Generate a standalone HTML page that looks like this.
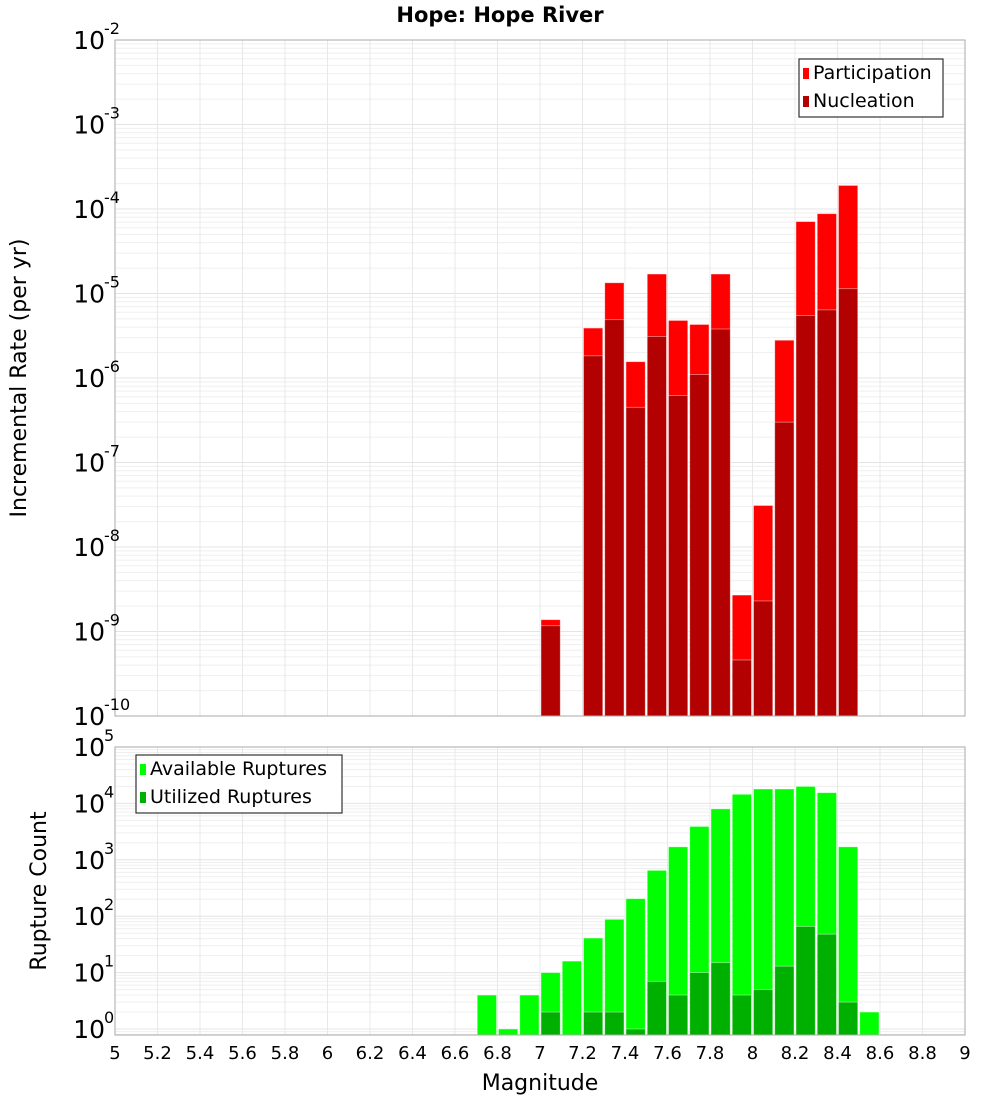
<!DOCTYPE html>
<html><head><meta charset="utf-8"><style>
body{margin:0;background:#fff;font-family:"Liberation Sans","DejaVu Sans",sans-serif}
svg text{font-family:"DejaVu Sans","Liberation Sans",sans-serif}
</style></head><body>
<svg id="c" width="1000" height="1100" xmlns="http://www.w3.org/2000/svg">
<text x="500" y="22" text-anchor="middle" font-size="21" font-weight="bold">Hope: Hope River</text>
<g id="top"></g><g id="bot"></g>
<text transform="translate(26,378) rotate(-90)" text-anchor="middle" font-size="22">Incremental Rate (per yr)</text>
<text transform="translate(46,891) rotate(-90)" text-anchor="middle" font-size="22">Rupture Count</text>
<text x="540" y="1090" text-anchor="middle" font-size="22">Magnitude</text>
</svg>
<script>
const bins=[6.75,6.85,6.95,7.05,7.15,7.25,7.35,7.45,7.55,7.65,7.75,7.85,7.95,8.05,8.15,8.25,8.35,8.45,8.55];
const participation=[0,0,0,1.38e-9,0,3.9e-6,1.34e-5,1.56e-6,1.7e-5,4.8e-6,4.3e-6,1.7e-5,2.7e-9,3.1e-8,2.8e-6,7.1e-5,8.8e-5,1.9e-4,0];
const nucleation=[0,0,0,1.17e-9,0,1.83e-6,4.9e-6,4.5e-7,3.1e-6,6.2e-7,1.1e-6,3.8e-6,4.6e-10,2.3e-9,3.0e-7,5.5e-6,6.4e-6,1.14e-5,0];
const available=[4,1,4,10,16,41,88,205,650,1700,3900,8000,14500,18000,18000,20000,15500,1700,2];
const utilized=[0,0,0,2,0,2,2,1,7,4,10,15,4,5,13,66,48,3,0];
const xTicks=["5","5.2","5.4","5.6","5.8","6","6.2","6.4","6.6","6.8","7","7.2","7.4","7.6","7.8","8","8.2","8.4","8.6","8.8","9"];
const topExps=[-2,-3,-4,-5,-6,-7,-8,-9,-10];
const botExps=[5,4,3,2,1,0];
const NS="http://www.w3.org/2000/svg";
const L=115,R=965;
const xs=m=>L+(m-5)*(R-L)/4;
function mk(p,t,a){const e=document.createElementNS(NS,t);for(const k in a)e.setAttribute(k,a[k]);p.appendChild(e);return e;}
function panel(g,top,bot,lmax,lmin,name){
  const ys=v=>top+(lmax-Math.log10(v))*(bot-top)/(lmax-lmin);
  mk(g,'rect',{x:L,y:top,width:R-L,height:bot-top,fill:'#fff'});
  for(let d=Math.floor(lmin);d<lmax;d++)for(let k=1;k<10;k++){const y=ys(k*Math.pow(10,d));if(y<top-0.5||y>bot+0.5)continue;
    mk(g,'line',{x1:L,x2:R,y1:y,y2:y,stroke:k==1?'#e4e4e4':'#efefef','stroke-width':1});}
  mk(g,'line',{x1:L,x2:R,y1:top,y2:top,stroke:'#e4e4e4'});
  xTicks.forEach(t=>{const x=xs(+t);mk(g,'line',{x1:x,x2:x,y1:top,y2:bot,stroke:'#e8e8e8'});});
  return ys;
}
function bars(g,ys,bot,vals,col,nm){
  vals.forEach((v,i)=>{if(!(v>0))return;const x0=xs(bins[i]-0.05)+1,x1=xs(bins[i]+0.05)-1;const y=Math.max(ys(v),0);
    const r=mk(g,'rect',{x:x0,y:y,width:x1-x0,height:bot-y,fill:col,stroke:'rgba(255,255,255,0.5)','stroke-width':0.8});
    
    });
}
function ylabels(g,ys,exps){
  exps.forEach(e=>{const y=ys(Math.pow(10,e));const t=mk(g,'text',{x:105,y:y+9,'text-anchor':'end','font-size':25});
    t.textContent='10';
    
    
    const s=mk(g,'text',{x:104,y:y-6,'font-size':16});s.textContent=String(e);});
}
function legend(g,x,y,w,items){
  mk(g,'rect',{x:x,y:y,width:w,height:58,fill:'#fff',stroke:'#333','stroke-width':1.2});
  items.forEach((it,i)=>{const yy=y+14+i*28;mk(g,'rect',{x:x+4,y:yy-5,width:6,height:11,fill:it[1]});
    const t=mk(g,'text',{x:x+14,y:yy+6,'font-size':19});t.textContent=it[0];
    
    });
}
const gt=document.getElementById('top'),gb=document.getElementById('bot');
const yt=panel(gt,40,716,-2,-10,'top');
bars(gt,yt,716,participation,'#ff0000','participation');
bars(gt,yt,716,nucleation,'#b30000','nucleation');
mk(gt,'rect',{x:L,y:40,width:R-L,height:676,fill:'none',stroke:'#aaa'});
ylabels(gt,yt,topExps);
legend(gt,799,59,144,[['Participation','#ff0000'],['Nucleation','#b30000']]);
const yb=panel(gb,747,1035,5,-0.106,'bot');
bars(gb,yb,1035,available,'#00ff00','available');
bars(gb,yb,1035,utilized,'#00b000','utilized');
mk(gb,'rect',{x:L,y:747,width:R-L,height:288,fill:'none',stroke:'#aaa'});
ylabels(gb,yb,botExps);
legend(gb,136,755,206,[['Available Ruptures','#00ff00'],['Utilized Ruptures','#00b000']]);
xTicks.forEach(t=>{const e=mk(gb,'text',{x:xs(+t),y:1059,'text-anchor':'middle','font-size':18});e.textContent=t;
  
  });
</script>
</body></html>
